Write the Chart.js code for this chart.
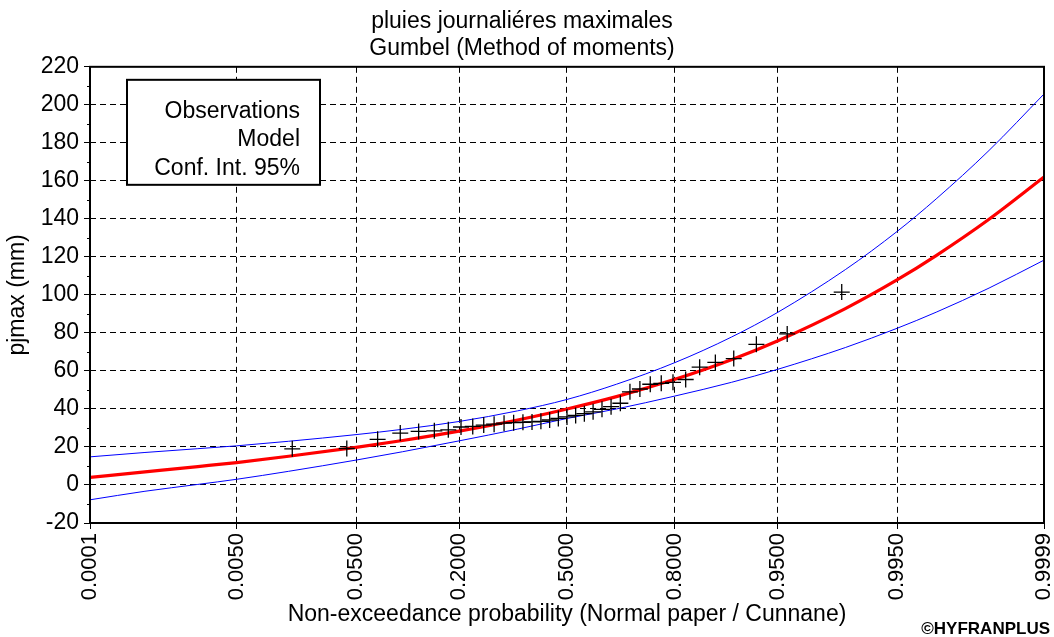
<!DOCTYPE html>
<html>
<head>
<meta charset="utf-8">
<script src="https://cdn.jsdelivr.net/npm/chart.js@4.4.1/dist/chart.umd.min.js"></script>
<style>
  html, body { margin: 0; padding: 0; background: #ffffff; }
  #wrap { width: 1054px; height: 637px; position: relative; }
</style>
</head>
<body>
<div id="wrap"><canvas id="c" width="1054" height="637"></canvas></div>
<script>
// ---------- data ----------
const titleLines = ['pluies journaliéres maximales', 'Gumbel (Method of moments)'];
const xAxisTitle = 'Non-exceedance probability (Normal paper / Cunnane)';
const yAxisTitle = 'pjmax (mm)';
const copyright = '©HYFRANPLUS';

const tickProbs  = [0.0001, 0.005, 0.05, 0.2, 0.5, 0.8, 0.95, 0.995, 0.9999];
const tickLabels = ['0.0001', '0.0050', '0.0500', '0.2000', '0.5000', '0.8000', '0.9500', '0.9950', '0.9999'];

// observations: non-exceedance probability (Cunnane) and value (mm)
const obsProb = [0.0161, 0.0430, 0.0699, 0.0968, 0.1237, 0.1505, 0.1774, 0.2043, 0.2312, 0.2581,
                 0.2849, 0.3118, 0.3387, 0.3656, 0.3925, 0.4194, 0.4462, 0.4731, 0.5000, 0.5269,
                 0.5538, 0.5806, 0.6075, 0.6344, 0.6613, 0.6882, 0.7151, 0.7419, 0.7688, 0.7957,
                 0.8226, 0.8495, 0.8763, 0.9032, 0.9301, 0.9570, 0.9839];
const obsValue = [19.0, 19.2, 24.0, 27.3, 28.2, 28.5, 29.0, 30.5, 30.8, 31.5,
                  32.0, 32.5, 32.8, 33.0, 33.2, 33.5, 34.2, 35.0, 35.8, 36.6,
                  37.5, 38.5, 39.8, 41.2, 43.0, 49.0, 50.5, 53.0, 53.5, 54.0,
                  55.5, 62.0, 64.5, 66.5, 74.0, 79.5, 101.5];

// model curve and 95% confidence bounds
const curveProb  = [0.0001, 0.0005, 0.002, 0.005, 0.015, 0.05, 0.1, 0.2, 0.35, 0.5,
                    0.65, 0.8, 0.9, 0.95, 0.985, 0.995, 0.998, 0.9995, 0.9999];
const modelValue = [4.0, 6.9, 9.7, 11.8, 15.1, 19.8, 23.4, 28.3, 34.2, 40.0,
                    46.5, 55.6, 65.9, 75.9, 92.8, 108.0, 120.7, 139.8, 162.0];
const upperValue = [14.8, 17.1, 19.1, 20.6, 23.0, 26.5, 29.3, 33.4, 39.0, 45.0,
                    53.0, 64.4, 77.8, 90.9, 113.3, 133.5, 150.5, 176.0, 205.7];
const lowerValue = [-7.8, -3.3, 0.3, 3.0, 7.2, 13.1, 17.5, 23.2, 29.4, 35.0,
                    40.0, 46.8, 54.0, 60.9, 72.3, 82.5, 90.9, 103.6, 118.3];

const yMin = -20, yMax = 220, yStep = 20;

// ---------- normal-paper transform ----------
function probit(p) {
  const a = [-3.969683028665376e+01, 2.209460984245205e+02, -2.759285104469687e+02, 1.383577518672690e+02, -3.066479806614716e+01, 2.506628277459239e+00];
  const b = [-5.447609879822406e+01, 1.615858368580409e+02, -1.556989798598866e+02, 6.680131188771972e+01, -1.328068155288572e+01];
  const c = [-7.784894002430293e-03, -3.223964580411365e-01, -2.400758277161838e+00, -2.549671348473060e+00, 4.374664141464968e+00, 2.938163982698783e+00];
  const d = [7.784695709041462e-03, 3.224671290700398e-01, 2.445134137142996e+00, 3.754408661907416e+00];
  const plow = 0.02425, phigh = 1 - plow;
  let q, r;
  if (p < plow) {
    q = Math.sqrt(-2 * Math.log(p));
    return (((((c[0]*q+c[1])*q+c[2])*q+c[3])*q+c[4])*q+c[5]) / ((((d[0]*q+d[1])*q+d[2])*q+d[3])*q+1);
  }
  if (p > phigh) {
    q = Math.sqrt(-2 * Math.log(1 - p));
    return -(((((c[0]*q+c[1])*q+c[2])*q+c[3])*q+c[4])*q+c[5]) / ((((d[0]*q+d[1])*q+d[2])*q+d[3])*q+1);
  }
  q = p - 0.5; r = q * q;
  return (((((a[0]*r+a[1])*r+a[2])*r+a[3])*r+a[4])*r+a[5])*q / (((((b[0]*r+b[1])*r+b[2])*r+b[3])*r+b[4])*r+1);
}

const FONT = "'Liberation Sans', Arial, sans-serif";
const pts = (probs, vals) => probs.map((p, i) => ({ x: probit(p), y: vals[i] }));

// ---------- plugins ----------
const decorPlugin = {
  id: 'decor',
  afterDatasetsDraw(chart) {
    const { ctx, chartArea: a, scales } = chart;
    ctx.save();
    // minor ticks on y axis
    ctx.strokeStyle = '#000'; ctx.lineWidth = 1;
    for (let v = yMin + yStep / 2; v < yMax; v += yStep) {
      const y = Math.round(scales.y.getPixelForValue(v)) + 0.5;
      ctx.beginPath(); ctx.moveTo(a.left - 3, y); ctx.lineTo(a.left, y); ctx.stroke();
    }
    // frame
    ctx.lineWidth = 2;
    ctx.strokeRect(a.left, a.top, a.right - a.left, a.bottom - a.top);
    // legend box
    const bx = a.left + 37, by = a.top + 13, bw = 193, bh = 105;
    ctx.fillStyle = '#fff';
    ctx.fillRect(bx, by, bw, bh);
    ctx.lineWidth = 2; ctx.strokeStyle = '#000';
    ctx.strokeRect(bx, by, bw, bh);
    const labels = [];
    chart.data.datasets.forEach(ds => { if (!labels.includes(ds.label)) labels.push(ds.label); });
    ctx.fillStyle = '#000';
    ctx.font = '23px ' + FONT;
    ctx.textAlign = 'right';
    ctx.textBaseline = 'alphabetic';
    labels.forEach((t, i) => ctx.fillText(t, bx + bw - 20, by + 38 + i * 28.5));
    ctx.restore();
  },
  afterDraw(chart) {
    const { ctx } = chart;
    ctx.save();
    ctx.fillStyle = '#000';
    ctx.font = 'bold 17px ' + FONT;
    ctx.textAlign = 'right';
    ctx.textBaseline = 'alphabetic';
    ctx.fillText(copyright, 1050, 634);
    ctx.restore();
  }
};

const gridCommon = { color: '#000', lineWidth: 1, tickColor: '#000', tickLength: 6, tickWidth: 1 };

new Chart(document.getElementById('c'), {
  type: 'scatter',
  data: {
    datasets: [
      { label: 'Observations', data: pts(obsProb, obsValue), showLine: false,
        pointStyle: 'cross', pointRadius: 8, pointHoverRadius: 8, borderColor: '#000', borderWidth: 1.3,
        backgroundColor: '#000', order: 0 },
      { label: 'Model', data: pts(curveProb, modelValue), showLine: true, pointRadius: 0,
        borderColor: '#ff0000', borderWidth: 3.2, cubicInterpolationMode: 'monotone', order: 1 },
      { label: 'Conf. Int. 95%', data: pts(curveProb, upperValue), showLine: true, pointRadius: 0,
        borderColor: '#0000ff', borderWidth: 1, cubicInterpolationMode: 'monotone', order: 2 },
      { label: 'Conf. Int. 95%', data: pts(curveProb, lowerValue), showLine: true, pointRadius: 0,
        borderColor: '#0000ff', borderWidth: 1, cubicInterpolationMode: 'monotone', order: 2 }
    ]
  },
  options: {
    responsive: false,
    animation: false,
    devicePixelRatio: 1,
    layout: { padding: { left: 0, right: 10, top: 0, bottom: 0 } },
    plugins: {
      legend: { display: false },
      tooltip: { enabled: false },
      title: {
        display: true, text: titleLines, color: '#000',
        font: { family: FONT, size: 23, weight: 'normal', lineHeight: 1.17 },
        padding: { top: 8, bottom: 5 }
      }
    },
    scales: {
      x: {
        type: 'linear',
        min: probit(tickProbs[0]),
        max: probit(tickProbs[tickProbs.length - 1]),
        afterBuildTicks: (s) => { s.ticks = tickProbs.map(p => ({ value: probit(p) })); },
        afterFit: (s) => { s.height = 114; s.paddingLeft = 0; s.paddingRight = 0; },
        ticks: {
          autoSkip: false, minRotation: 90, maxRotation: 90, padding: 4, color: '#000',
          font: { family: FONT, size: 22 },
          callback: (v, i) => tickLabels[i]
        },
        grid: gridCommon,
        border: { display: false, dash: [6, 4] },
        title: { display: true, text: xAxisTitle, color: '#000',
                 font: { family: FONT, size: 23 }, padding: { top: 0, bottom: 9 } }
      },
      y: {
        type: 'linear', min: yMin, max: yMax,
        afterFit: (s) => { s.width = 90; s.paddingTop = 0; s.paddingBottom = 0; },
        ticks: { stepSize: yStep, padding: 5, color: '#000', font: { family: FONT, size: 23 } },
        grid: gridCommon,
        border: { display: false, dash: [6, 4] },
        title: { display: true, text: yAxisTitle, color: '#000',
                 font: { family: FONT, size: 23 }, padding: { top: 4, bottom: 0 } }
      }
    }
  },
  plugins: [decorPlugin]
});
</script>
</body>
</html>
